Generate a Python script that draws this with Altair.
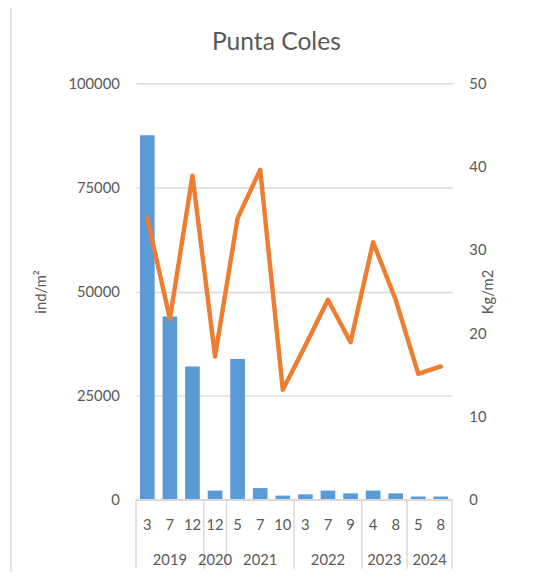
import altair as alt
import pandas as pd

title_text = ["Punta Coles"]
months = ["3", "7", "12", "12", "5", "7", "10", "3", "7", "9", "4", "8", "5", "8"]
years = ["2019", "2019", "2019", "2020", "2021", "2021", "2021",
         "2022", "2022", "2022", "2023", "2023", "2024", "2024"]
density = [87500, 44000, 32000, 2200, 33800, 2800, 1000, 1300, 2200, 1550, 2200, 1550, 780, 780]
biomass = [33.8, 21.7, 38.9, 17.2, 33.8, 39.6, 13.2, 18.5, 24.0, 18.9, 30.9, 24.0, 15.1, 16.0]

n = len(months)
df = pd.DataFrame({"idx": list(range(n)), "month": months, "year": years,
                   "ind": density, "kg": biomass})

groups = df.groupby("year", sort=False)["idx"].agg(["min", "max"]).reset_index()
groups["start"] = groups["min"]
groups["end"] = groups["max"] + 1
bounds = pd.DataFrame({"b": sorted(set(groups["start"].tolist() + [n]))})

W, H = 321, 423
FONT = "Lato"
GREY = "#595959"
LINE = "#D9D9D9"
xscale = alt.Scale(domain=[0, n], nice=False, zero=False)

bars = alt.Chart(df).transform_calculate(
    x0="datum.idx + 0.175", x1="datum.idx + 0.825"
).mark_bar(color="#5B9BD5").encode(
    x=alt.X("x0:Q", scale=xscale, axis=None),
    x2="x1:Q",
    y=alt.Y("ind:Q", scale=alt.Scale(domain=[0, 100000], nice=False),
            axis=alt.Axis(orient="left", values=[0, 25000, 50000, 75000, 100000],
                          title="ind/m²", grid=True, gridColor=LINE, gridWidth=1.5,
                          domain=False, ticks=False, labelPadding=17,
                          titlePadding=20, format="d")),
    y2=alt.datum(0),
)

line = alt.Chart(df).transform_calculate(
    xc="datum.idx + 0.5"
).mark_line(color="#ED7D31", strokeWidth=4.5, strokeCap="round", strokeJoin="round").encode(
    x=alt.X("xc:Q", scale=xscale, axis=None),
    y=alt.Y("kg:Q", scale=alt.Scale(domain=[0, 50], nice=False),
            axis=alt.Axis(orient="right", values=[0, 10, 20, 30, 40, 50],
                          title="Kg/m2", grid=False, domain=False, ticks=False,
                          labelPadding=17, titlePadding=10, titleAngle=270)),
)

month_text = alt.Chart(df).transform_calculate(
    xc="datum.idx + 0.5"
).mark_text(font=FONT, fontSize=15, color=GREY, baseline="middle").encode(
    x=alt.X("xc:Q", scale=xscale, axis=None),
    y=alt.value(449),
    text="month:N",
)

year_text = alt.Chart(groups).transform_calculate(
    xc="(datum.start + datum.end) / 2"
).mark_text(font=FONT, fontSize=15, color=GREY, baseline="middle").encode(
    x=alt.X("xc:Q", scale=xscale, axis=None),
    y=alt.value(484),
    text="year:N",
)

dividers = alt.Chart(bounds).mark_rule(color=LINE, strokeWidth=1.5).encode(
    x=alt.X("b:Q", scale=xscale, axis=None),
    y=alt.value(H),
    y2=alt.value(H + 70),
)

baseline = alt.Chart(pd.DataFrame({"a": [0]})).mark_rule(color=LINE, strokeWidth=1.5).encode(
    x=alt.value(0), x2=alt.value(W), y=alt.value(H),
)

border = alt.Chart(pd.DataFrame({"a": [0]})).mark_rule(color=LINE, strokeWidth=1.5).encode(
    x=alt.value(-127), y=alt.value(-80), y2=alt.value(H + 80),
)

title = alt.Chart(pd.DataFrame({"t": title_text})).mark_text(
    font=FONT, fontSize=25, color=GREY, baseline="alphabetic", align="center"
).encode(
    x=alt.value(W / 2 - 18), y=alt.value(-34), text="t:N",
)

chart = alt.layer(border, bars, line, dividers, baseline, month_text, year_text, title).resolve_scale(
    y="independent", x="shared"
).properties(
    width=W, height=H,
    autosize=alt.AutoSizeParams(type="none"),
    padding={"left": 130, "top": 72, "right": 75, "bottom": 69},
).configure(background="white").configure_view(stroke=None).configure_axis(
    labelFont=FONT, labelFontSize=15, labelColor=GREY,
    titleFont=FONT, titleFontSize=15, titleColor=GREY, titleFontWeight="normal",
)

chart.save("out.html", embed_options={"renderer": "svg", "actions": False})
